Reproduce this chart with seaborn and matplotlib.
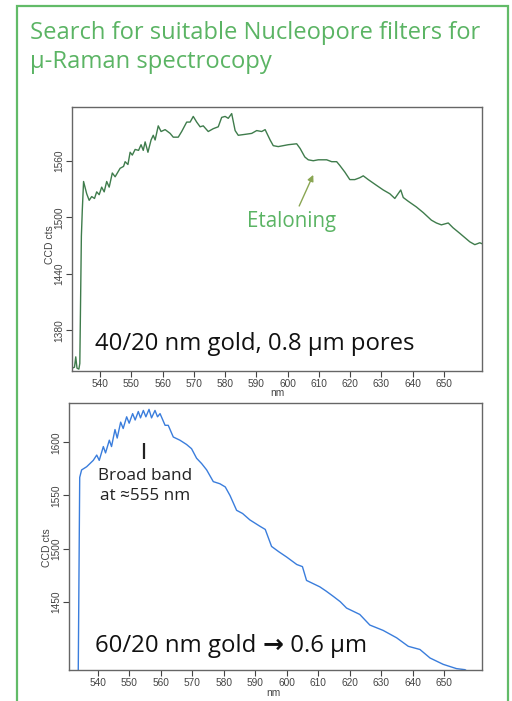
import matplotlib
matplotlib.use("Agg")
import matplotlib.pyplot as plt
import seaborn as sns
import pandas as pd
from matplotlib.patches import Rectangle

# ---------------- data ----------------
nm_top = [531.0, 531.8, 532.2, 532.6, 533.2, 533.5, 534.0, 534.3, 534.7, 535.7, 536.5, 537.3,
          538.2, 538.9, 539.7, 540.5, 541.3, 542.1, 542.9, 543.9, 544.8, 546.4, 547.5, 548.0,
          548.9, 549.6, 550.3, 551.2, 552.3, 553.1, 553.8, 554.4, 555.3, 556.3, 557.0, 557.6,
          558.6, 559.5, 560.8, 562.4, 563.4, 565.0, 566.1, 567.7, 568.8, 569.8, 570.9, 572.0,
          573.0, 574.6, 576.2, 577.8, 578.9, 580.0, 581.0, 582.1, 583.2, 584.2, 586.4, 588.5,
          590.1, 591.7, 592.8, 594.4, 595.4, 597.0, 598.6, 600.2, 602.9, 604.0, 605.5, 606.6,
          608.2, 609.8, 612.5, 614.1, 615.7, 616.7, 618.3, 619.9, 621.5, 623.1, 624.2, 625.8,
          628.4, 630.6, 632.7, 634.3, 636.2, 637.0, 638.6, 641.2, 643.4, 646.0, 647.6, 649.2,
          651.4, 652.9, 655.1, 658.3, 659.9, 661.5, 662.2]
cts_top = [1340, 1341, 1352, 1340, 1339, 1345, 1480, 1508, 1538, 1525, 1518, 1522,
           1520, 1527, 1524, 1532, 1527, 1538, 1532, 1547, 1543, 1552, 1554, 1559,
           1556, 1569, 1566, 1572, 1571, 1577, 1571, 1580, 1569, 1582, 1587, 1582,
           1597, 1591, 1593, 1589, 1585, 1585, 1591, 1601, 1601, 1607, 1601, 1596,
           1597, 1591, 1594, 1596, 1606, 1607, 1605, 1610, 1592, 1587, 1588, 1589,
           1592, 1591, 1593, 1582, 1576, 1575, 1576, 1577, 1578, 1573, 1564, 1561,
           1560, 1561, 1561, 1559, 1559, 1555, 1548, 1540, 1540, 1542, 1544, 1540,
           1534, 1529, 1525, 1520, 1529, 1521, 1517, 1511, 1505, 1497, 1494, 1492,
           1494, 1489, 1483, 1474, 1471, 1473, 1472]

nm_bot = [533.8, 534.3, 534.9, 536.5, 538.6, 539.7, 540.5, 541.8, 542.5, 543.7, 544.4, 545.5,
          546.2, 547.3, 548.1, 549.2, 550.0, 551.1, 551.9, 552.9, 553.6, 554.5, 555.3, 556.3,
          557.1, 558.2, 559.0, 559.8, 561.4, 562.4, 564.0, 566.1, 568.2, 569.8, 571.4, 573.0,
          574.6, 576.7, 578.8, 580.5, 582.0, 584.1, 586.0, 588.3, 591.5, 593.2, 595.2, 597.5,
          600.0, 603.2, 605.0, 606.3, 610.5, 612.5, 614.8, 617.0, 619.0, 623.2, 626.4, 630.6,
          634.9, 638.6, 642.3, 645.5, 649.7, 653.9, 656.6, 658.0]
cts_bot = [1370, 1567, 1574, 1577, 1583, 1588, 1583, 1596, 1590, 1602, 1596, 1612,
           1604, 1619, 1613, 1624, 1618, 1627, 1621, 1629, 1623, 1630, 1624, 1631,
           1623, 1630, 1624, 1627, 1616, 1616, 1605, 1602, 1598, 1594, 1585, 1580,
           1574, 1563, 1561, 1558, 1550, 1536, 1533, 1527, 1521, 1518, 1502, 1497,
           1492, 1485, 1483, 1470, 1464, 1460, 1455, 1450, 1444, 1438, 1428, 1423,
           1416, 1408, 1405, 1397, 1391, 1387, 1386, 1383]

xticks = [540, 550, 560, 570, 580, 590, 600, 610, 620, 630, 640, 650]
yticks_top = [1380, 1440, 1500, 1560]
yticks_bot = [1450, 1500, 1550, 1600]

title_line1 = "Search for suitable Nucleopore filters for"
title_line2 = "µ-Raman spectrocopy"
label_top = "40/20 nm gold, 0.8 µm pores"
label_bot_a = "60/20 nm gold "
label_bot_arrow = "\u2192"
label_bot_b = " 0.6 µm"
etalon_text = "Etaloning"
etalon_tail = (603.7, 1512)
etalon_head = (608.2, 1545)
band_text = "Broad band\nat \u2248555 nm"
band_nm = 554.8
band_range = (1584, 1599)

# ---------------- style ----------------
sns.set_theme(style="white")
plt.rcParams['font.family'] = ['Liberation Sans', 'DejaVu Sans']
SANS = ['Open Sans', 'DejaVu Sans']

GREEN_LINE = "#3f7c4c"
BLUE_LINE = "#3a7ddc"
GREEN_TEXT = "#5bb464"
SPINE = "#666666"
TICKC = "#444444"

fig = plt.figure(figsize=(5.12, 7.01), dpi=100)
fig.patch.set_facecolor("white")

# slide frame
fig.patches.append(Rectangle((17/512, -0.05), (508-17)/512, 0.05 + 1 - 6/701,
                             transform=fig.transFigure, fill=False,
                             edgecolor="#62bb68", linewidth=1.6))

fig.text(30/512, 1 - 39/701, title_line1, color=GREEN_TEXT, fontsize=17.1,
         family=SANS, ha='left', va='baseline')
fig.text(30/512, 1 - 68/701, title_line2, color=GREEN_TEXT, fontsize=17.1,
         family=SANS, ha='left', va='baseline')

ax1 = fig.add_axes([72/512, 1 - 371/701, 410/512, 264/701])
ax2 = fig.add_axes([69/512, 1 - 670/701, 413/512, 267/701])

df_top = pd.DataFrame({"nm": nm_top, "cts": cts_top})
df_bot = pd.DataFrame({"nm": nm_bot, "cts": cts_bot})
sns.lineplot(data=df_top, x="nm", y="cts", ax=ax1, color=GREEN_LINE, lw=1.0,
             sort=False, estimator=None)
sns.lineplot(data=df_bot, x="nm", y="cts", ax=ax2, color=BLUE_LINE, lw=1.0,
             sort=False, estimator=None)

ax1.set_xlim(531.0, 662.2)
ax1.set_ylim(1337, 1617)
ax2.set_xlim(530.9, 662.0)
ax2.set_ylim(1385.7, 1637)

for ax, yt in ((ax1, yticks_top), (ax2, yticks_bot)):
    ax.set_xticks(xticks)
    ax.set_yticks(yt)
    ax.tick_params(axis='both', direction='out', length=4, width=0.8, color=TICKC,
                   labelsize=7.3, labelcolor=TICKC, pad=1.5, bottom=True, left=True)
    for lab in ax.get_yticklabels():
        lab.set_rotation(90)
        lab.set_va('center')
    for s in ax.spines.values():
        s.set_color(SPINE)
        s.set_linewidth(1.0)
    ax.set_xlabel("nm", fontsize=7.3, color=TICKC)
    ax.set_ylabel("CCD cts", fontsize=7.5, color=TICKC)

ax1.xaxis.set_label_coords(0.5, -0.064)
ax2.xaxis.set_label_coords(0.494, -0.067)
ax1.yaxis.set_label_coords(-0.041, 0.477)
ax2.yaxis.set_label_coords(-0.042, 0.46)

ax1.text(0.056, 0.08, label_top, transform=ax1.transAxes, fontsize=17.2,
         family=SANS, color="#111111", ha='left', va='baseline')
ax1.text(0.427, 0.565, etalon_text, transform=ax1.transAxes, fontsize=14.8,
         family=SANS, color=GREEN_TEXT, ha='left', va='center')
ax1.annotate("", xy=etalon_head, xytext=etalon_tail,
             arrowprops=dict(arrowstyle="-|>", color="#8aa653", lw=1.0,
                             mutation_scale=9, shrinkA=0, shrinkB=0))

# bottom label composed of three pieces so the arrow can be bold
fig.canvas.draw()
renderer = fig.canvas.get_renderer()
t1 = ax2.text(0.063, 0.0685, label_bot_a, transform=ax2.transAxes, fontsize=17.3,
              family=SANS, color="#111111", ha='left', va='baseline')
bb = t1.get_window_extent(renderer)
inv = ax2.transAxes.inverted()
x_after = inv.transform((bb.x1, bb.y0))[0]
t2 = ax2.text(x_after, 0.0685, label_bot_arrow, transform=ax2.transAxes, fontsize=18,
              family=['DejaVu Sans'], fontweight='bold', color="#111111",
              ha='left', va='baseline')
bb2 = t2.get_window_extent(renderer)
x_after2 = inv.transform((bb2.x1, bb2.y0))[0]
ax2.text(x_after2, 0.0685, label_bot_b, transform=ax2.transAxes, fontsize=17.3,
         family=SANS, color="#111111", ha='left', va='baseline')

ax2.text(0.185, 0.689, band_text, transform=ax2.transAxes, fontsize=12.3,
         family=SANS, color="#222222", ha='center', va='center',
         linespacing=1.3)
ax2.vlines(band_nm, band_range[0], band_range[1], color="#222222", lw=1.6)

fig.savefig("out.png", dpi=100, facecolor="white")
